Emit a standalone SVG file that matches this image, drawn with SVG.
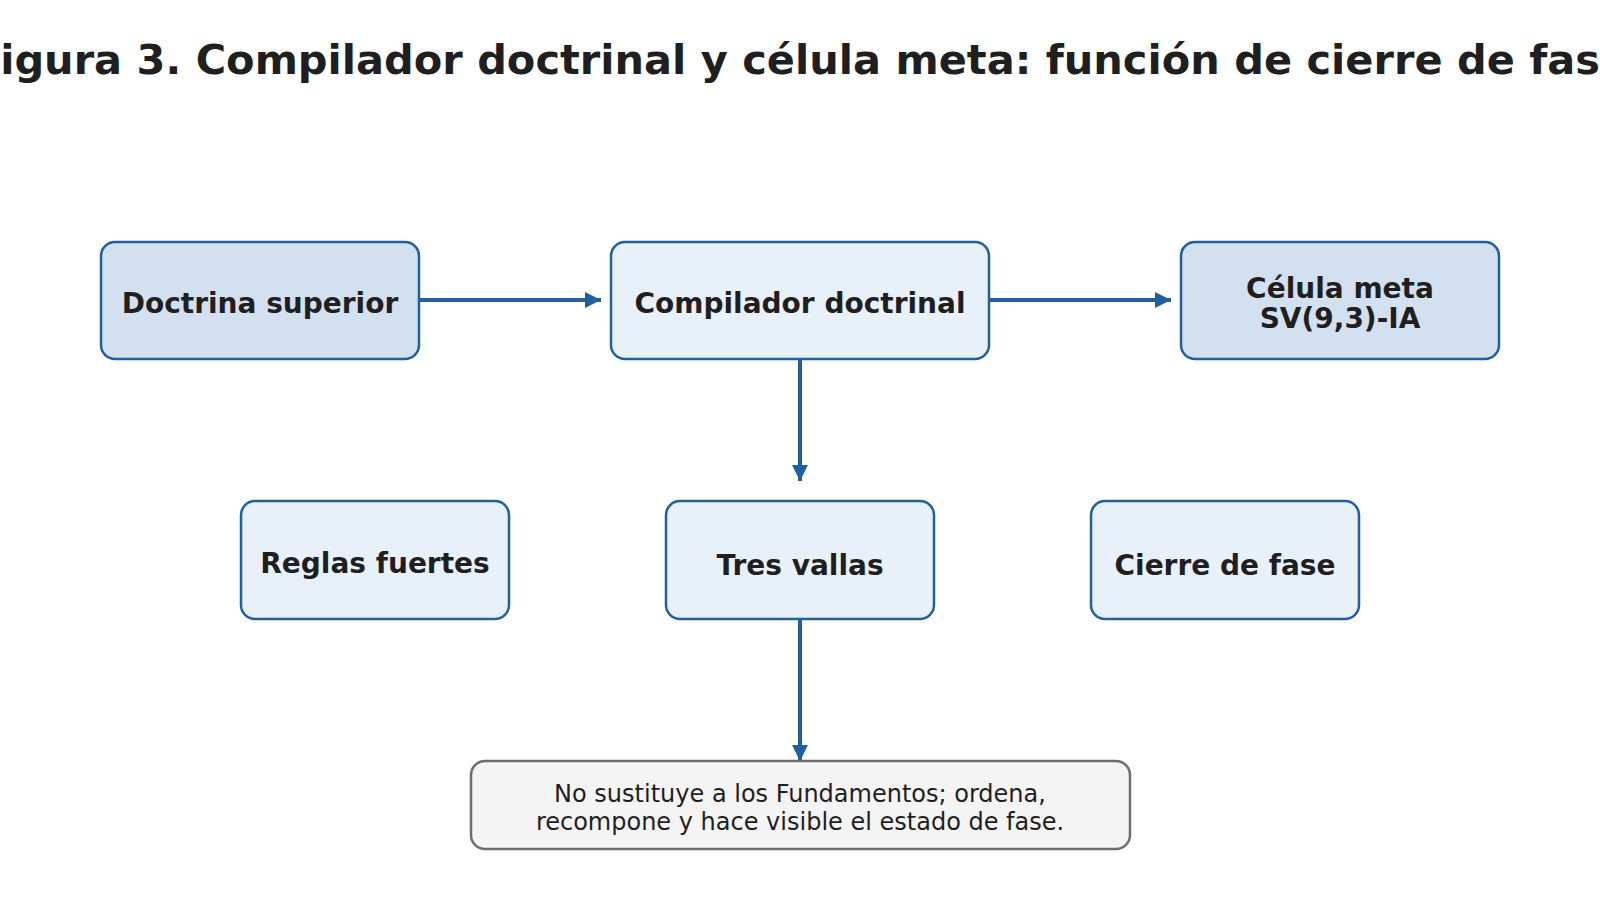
<svg xmlns="http://www.w3.org/2000/svg" width="1600" height="900" viewBox="0 0 1600 900">
<style>
.t{font-family:"DejaVu Sans",sans-serif;fill:#1f1f1f;text-anchor:middle}
.b{font-weight:bold;font-size:28px}
.n{stroke:#2060a0;stroke-width:2.5}
.d{fill:#d3e0f0}.l{fill:#e8f0fa}
.c{stroke:#2060a0;stroke-width:4;fill:none;marker-end:url(#a)}
</style>
<defs><marker id="a" viewBox="0 0 10 10" refX="10" refY="5" markerWidth="4" markerHeight="4" orient="auto"><path d="M0,0L10,5L0,10z" fill="#2060a0"/></marker></defs>
<rect width="1600" height="900" fill="#fff"/>
<text class="t" x="800" y="74" font-size="41.5" font-weight="bold">Figura 3. Compilador doctrinal y célula meta: función de cierre de fase</text>
<g id="connectors">
<line class="c" x1="419" y1="300" x2="601" y2="300"/>
<line class="c" x1="989" y1="300" x2="1171" y2="300"/>
<line class="c" x1="800" y1="359" x2="800" y2="481"/>
<line class="c" x1="800" y1="619" x2="800" y2="761"/>
</g>
<g id="n1"><rect class="n d" x="101" y="242" width="318" height="117" rx="14"/><text class="t b" x="260" y="313">Doctrina superior</text></g>
<g id="n2"><rect class="n l" x="611" y="242" width="378" height="117" rx="14"/><text class="t b" x="800" y="313">Compilador doctrinal</text></g>
<g id="n3"><rect class="n d" x="1181" y="242" width="318" height="117" rx="14"/><text class="t b" x="1340" y="298">Célula meta</text><text class="t b" x="1340" y="328">SV(9,3)-IA</text></g>
<g id="n4"><rect class="n l" x="241" y="501" width="268" height="118" rx="14"/><text class="t b" x="375" y="573">Reglas fuertes</text></g>
<g id="n5"><rect class="n l" x="666" y="501" width="268" height="118" rx="14"/><text class="t b" x="800" y="575">Tres vallas</text></g>
<g id="n6"><rect class="n l" x="1091" y="501" width="268" height="118" rx="14"/><text class="t b" x="1225" y="575">Cierre de fase</text></g>
<g id="n7"><rect x="471" y="761" width="659" height="88" rx="14" fill="#f4f4f4" stroke="#6e6e6e" stroke-width="2.5"/><text class="t" font-size="24" x="800" y="802">No sustituye a los Fundamentos; ordena,</text><text class="t" font-size="24" x="800" y="830">recompone y hace visible el estado de fase.</text></g>
</svg>
